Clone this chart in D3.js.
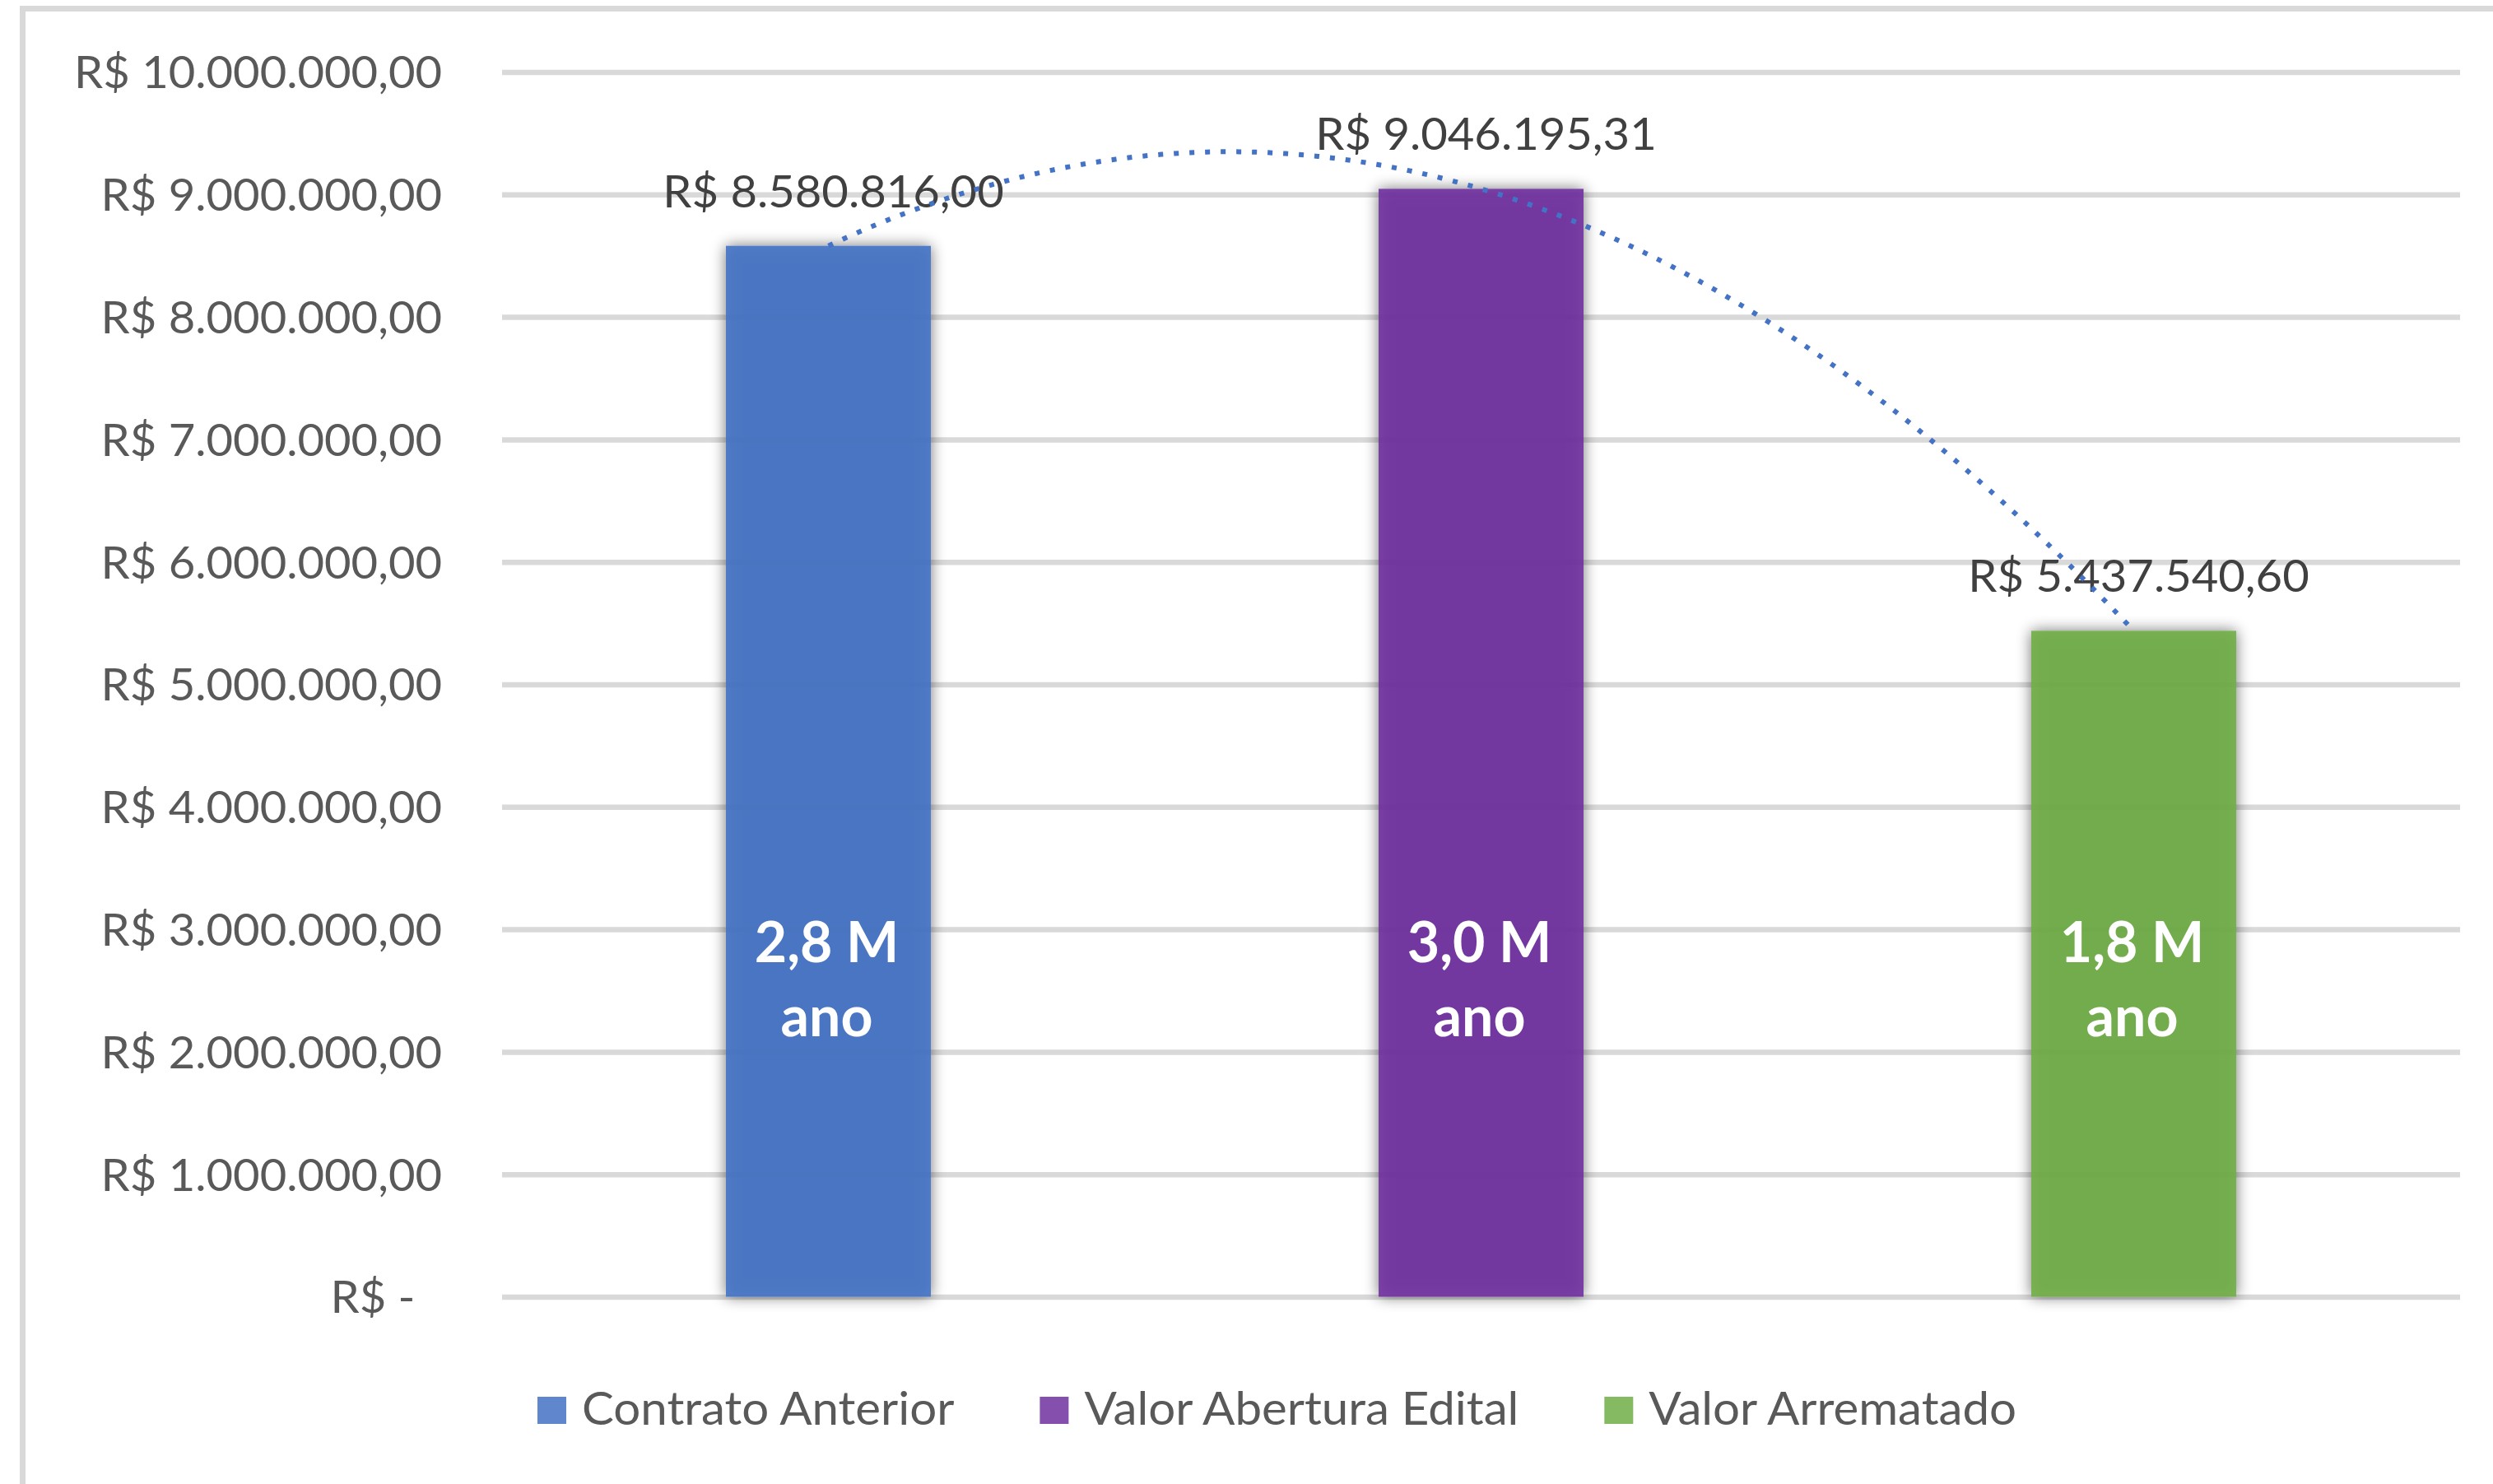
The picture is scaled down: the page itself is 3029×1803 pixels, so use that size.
<!DOCTYPE html>
<html>
<head>
<meta charset="utf-8">
<script src="https://cdn.jsdelivr.net/npm/d3@7"></script>
<style>
  html, body { margin: 0; padding: 0; background: #ffffff; }
  svg { display: block; }
  text { font-family: Lato, "Open Sans", sans-serif; }
</style>
</head>
<body>
<svg id="chart" width="3029" height="1803"></svg>
<script>
// ---------- data ----------
const categories = ["Contrato Anterior", "Valor Abertura Edital", "Valor Arrematado"];
const values = [8580816.00, 9046195.31, 5437540.60];
const innerLabels = [["2,8 M", "ano"], ["3,0 M", "ano"], ["1,8 M", "ano"]];
const yTicks = [0, 1000000, 2000000, 3000000, 4000000, 5000000, 6000000, 7000000, 8000000, 9000000, 10000000];
const colors = ["#4472c4", "#7030a0", "#70ad47"];

// ---------- setup ----------
const W = 3029, H = 1803;
const plot = { left: 610, right: 2989, top: 87.5, bottom: 1575.5 };
const svg = d3.select("#chart");

const locale = d3.formatLocale({ decimal: ",", thousands: ".", grouping: [3], currency: ["R$ ", ""] });
const money = v => v === 0 ? "R$ -\u2007" : locale.format("$,.2f")(v);

const x = d3.scaleBand().domain(categories).range([plot.left, plot.right]).paddingInner(0).paddingOuter(0);
const barW = x.bandwidth() * 0.314;
const y = d3.scaleLinear().domain([0, 10000000]).range([plot.bottom, plot.top]);

// defs: shadow
const defs = svg.append("defs");
const f = defs.append("filter").attr("id", "shadow").attr("x", "-30%").attr("y", "-30%").attr("width", "160%").attr("height", "160%");
f.append("feGaussianBlur").attr("in", "SourceAlpha").attr("stdDeviation", 9).attr("result", "blur");
f.append("feComponentTransfer").attr("in", "blur").attr("result", "sh")
  .append("feFuncA").attr("type", "linear").attr("slope", 0.6);
const m = f.append("feMerge");
m.append("feMergeNode").attr("in", "sh");
m.append("feMergeNode").attr("in", "SourceGraphic");

// chart border (left + top visible)
svg.append("rect")
  .attr("x", 27.5).attr("y", 10.5).attr("width", W + 50).attr("height", H + 50)
  .attr("fill", "#ffffff").attr("stroke", "#d9d9d9").attr("stroke-width", 7);

// text measure helper for horizontal condensing (Calibri-like look)
const probe = svg.append("text").attr("font-size", 54).text(money(10000000));
const SX = 447 / probe.node().getComputedTextLength();
probe.remove();

// gridlines
svg.append("g")
  .attr("transform", `translate(${plot.left},0)`)
  .call(d3.axisLeft(y).tickValues(yTicks).tickSize(-(plot.right - plot.left)).tickFormat(""))
  .call(g => g.select(".domain").remove())
  .call(g => g.selectAll("line").attr("stroke", "#d9d9d9").attr("stroke-width", 6.5));

// y axis labels
svg.append("g")
  .attr("transform", `translate(${plot.left},0)`)
  .call(d3.axisLeft(y).tickValues(yTicks).tickSize(0).tickPadding(0).tickFormat(money))
  .call(g => g.select(".domain").remove())
  .call(g => g.selectAll("text")
    .attr("font-size", 54).attr("fill", "#595959")
    .attr("font-family", "Lato, 'Open Sans', sans-serif")
    .attr("text-anchor", "end")
    .attr("x", -73 / SX).attr("dy", "0.36em")
    .attr("transform", `scale(${SX},1)`));

// bars
svg.append("g").selectAll("rect").data(values).join("rect")
  .attr("x", (d, i) => x(categories[i]) + (x.bandwidth() - barW) / 2)
  .attr("y", d => y(d))
  .attr("width", barW)
  .attr("height", d => y(0) - y(d))
  .attr("fill", (d, i) => colors[i])
  .attr("fill-opacity", 0.9)
  .attr("filter", "url(#shadow)");

// inner labels
const inner = svg.append("g");
innerLabels.forEach((lines, i) => {
  const cx = x(categories[i]) + x.bandwidth() / 2 - 2;
  inner.append("text").attr("x", cx).attr("y", y(2730000))
    .attr("text-anchor", "middle").attr("font-weight", 700).attr("font-size", 68)
    .attr("fill", "#ffffff").text(lines[0]);
  inner.append("text").attr("x", cx).attr("y", y(2130000))
    .attr("text-anchor", "middle").attr("font-weight", 700).attr("font-size", 68)
    .attr("fill", "#ffffff").text(lines[1]);
});

// data labels
svg.append("g").selectAll("text").data(values).join("text")
  .attr("transform", (d, i) => `translate(${x(categories[i]) + x.bandwidth() / 2 + 6},${y(d) - 47}) scale(${SX},1)`)
  .attr("text-anchor", "middle").attr("font-size", 54).attr("fill", "#404040")
  .text(d => money(d));

// polynomial (order 2) trendline fitted to the three values
const xs = values.map((d, i) => i + 1);
function quad(t) {
  let s = 0;
  for (let i = 0; i < 3; i++) {
    let term = values[i];
    for (let j = 0; j < 3; j++) if (j !== i) term *= (t - xs[j]) / (xs[i] - xs[j]);
    s += term;
  }
  return s;
}
const xIdx = d3.scaleLinear().domain([1, 3])
  .range([x(categories[0]) + x.bandwidth() / 2, x(categories[2]) + x.bandwidth() / 2]);
const tSamples = d3.range(1, 3.0001, 0.01);
svg.append("path")
  .datum(tSamples)
  .attr("d", d3.line().x(t => xIdx(t)).y(t => y(quad(t))))
  .attr("fill", "none").attr("stroke", "#4472c4").attr("stroke-width", 6)
  .attr("stroke-dasharray", "6 13");

// legend
const legend = svg.append("g");
const items = [];
categories.forEach((c, i) => {
  const g = legend.append("g");
  g.append("rect").attr("x", 0).attr("y", 1697).attr("width", 35).attr("height", 33).attr("fill", colors[i]).attr("fill-opacity", 0.85);
  const t = g.append("text").attr("transform", `translate(54,1731) scale(${SX},1)`)
    .attr("font-size", 56).attr("fill", "#595959").text(c);
  const w = 54 + t.node().getComputedTextLength() * SX;
  items.push({ g, w });
});
const gap = 104;
let lx = 653;
items.forEach(it => { it.g.attr("transform", `translate(${lx},0)`); lx += it.w + gap; });
</script>
</body>
</html>
